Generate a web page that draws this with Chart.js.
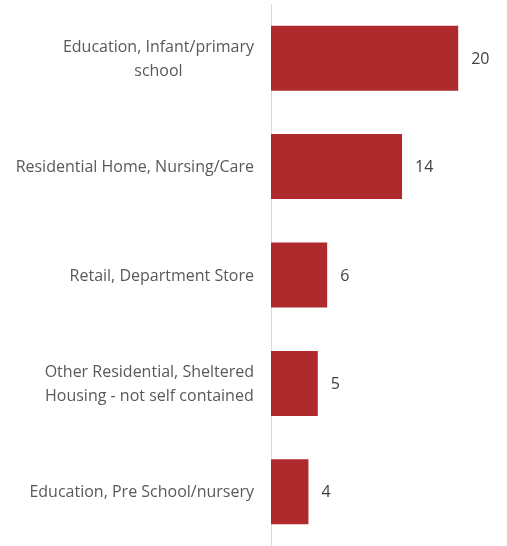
<!DOCTYPE html>
<html>
<head>
<meta charset="utf-8">
<script src="https://cdn.jsdelivr.net/npm/chart.js@4"></script>
<style>
  html, body { margin: 0; padding: 0; background: #fff; }
  #wrap { width: 507px; height: 546px; }
</style>
</head>
<body>
<div id="wrap"><canvas id="chart"></canvas></div>
<script>
const categories = [
  ['Education, Infant/primary', 'school'],
  ['Residential Home, Nursing/Care'],
  ['Retail, Department Store'],
  ['Other Residential, Sheltered', 'Housing - not self contained'],
  ['Education, Pre School/nursery']
];
const counts = [20, 14, 6, 5, 4];

const FONT = '16px "Open Sans", sans-serif';

// category labels: block right-aligned to the axis, lines centred inside it
const catLabels = {
  id: 'catLabels',
  afterDraw(chart) {
    const ctx = chart.ctx;
    const y = chart.scales.y;
    const right = chart.chartArea.left - 17;
    const lineH = 24;
    ctx.save();
    ctx.font = FONT;
    ctx.fillStyle = '#595959';
    ctx.textAlign = 'center';
    ctx.textBaseline = 'middle';
    categories.forEach((lines, i) => {
      const w = Math.max(...lines.map(l => ctx.measureText(l).width));
      const cx = right - w / 2;
      const cy = y.getPixelForValue(i) + 1;
      lines.forEach((l, j) => {
        ctx.fillText(l, cx, cy + (j - (lines.length - 1) / 2) * lineH);
      });
    });
    ctx.restore();
  }
};

// value labels to the right of each bar
const valueLabels = {
  id: 'valueLabels',
  afterDatasetsDraw(chart) {
    const ctx = chart.ctx;
    const meta = chart.getDatasetMeta(0);
    ctx.save();
    ctx.font = FONT;
    ctx.fillStyle = '#404040';
    ctx.textAlign = 'left';
    ctx.textBaseline = 'middle';
    meta.data.forEach((bar, i) => {
      ctx.fillText(String(counts[i]), bar.x + 13, bar.y + 1);
    });
    ctx.restore();
  }
};

new Chart(document.getElementById('chart'), {
  type: 'bar',
  data: {
    labels: categories,
    datasets: [{
      data: counts,
      backgroundColor: '#AE2A2C',
      borderWidth: 0,
      barPercentage: 0.6,
      categoryPercentage: 1
    }]
  },
  options: {
    indexAxis: 'y',
    responsive: true,
    maintainAspectRatio: false,
    animation: false,
    layout: { padding: { top: 4, right: 2, bottom: 0, left: 0 } },
    plugins: {
      legend: { display: false },
      tooltip: { enabled: false }
    },
    scales: {
      x: {
        display: false,
        min: 0,
        max: 25
      },
      y: {
        afterFit(scale) { scale.width = 271; },
        ticks: { display: false },
        grid: { color: 'transparent', drawTicks: false },
        border: { display: true, color: '#d9d9d9', width: 1 }
      }
    }
  },
  plugins: [catLabels, valueLabels]
});
</script>
</body>
</html>
